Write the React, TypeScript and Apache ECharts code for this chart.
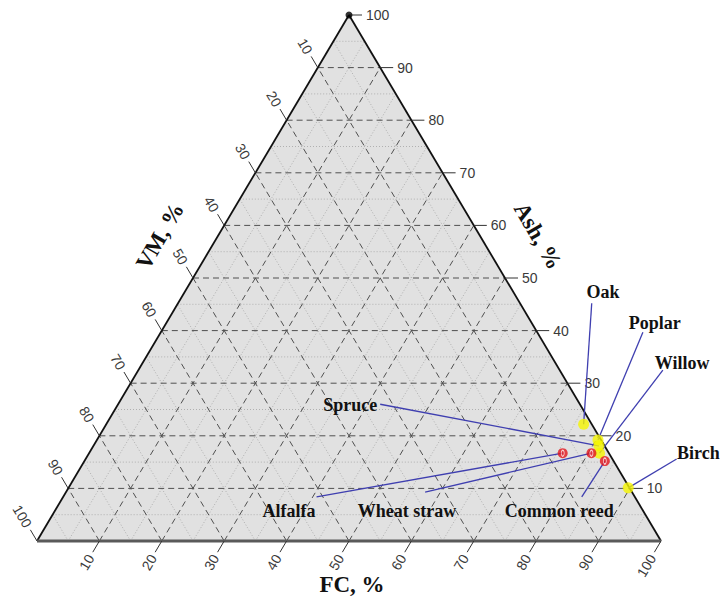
import React, { useEffect, useRef } from 'react';
import * as echarts from 'echarts';

// ---- data (ternary, %) ----
const species = ['Oak', 'Poplar', 'Willow', 'Birch', 'Spruce', 'Alfalfa', 'Wheat straw', 'Common reed'];
const vmValues = [1.3, 0.5, 1.5, 0.2, 0.9, 7.4, 2.8, 1.4];
const fcValues = [76.5, 80.3, 81.8, 89.7, 81.0, 75.9, 80.5, 83.4];
const ashValues = [22.2, 19.2, 16.7, 10.1, 18.1, 16.7, 16.7, 15.2];
const speciesGroup = ['woody', 'woody', 'woody', 'woody', 'woody', 'herbaceous', 'herbaceous', 'herbaceous'];

const tickValues = [10, 20, 30, 40, 50, 60, 70, 80, 90, 100];
const majorLevels = [10, 20, 30, 40, 50, 60, 70, 80, 90];
const minorLevels = [5, 15, 25, 35, 45, 55, 65, 75, 85, 95];

// ---- layout of annotation labels (plot coordinates: X = FC + Ash/2, Y = Ash) ----
const labelCenterX = [90.7, 99.0, 103.4, 106.0, 50.2, 40.4, 59.3, 83.7];
const labelCenterY = [47.3, 41.4, 33.8, 16.7, 25.9, 5.7, 5.7, 5.7];
const leaderStartX = [88.9, 97.1, 100.3, 102.5, 55.0, 44.8, 62.2, 87.3];
const leaderStartY = [45.2, 39.7, 32.5, 15.6, 26.0, 8.4, 9.3, 8.4];

const toXY = (vm: number, fc: number, ash: number): [number, number] => {
  const s = vm + fc + ash;
  const f = (fc / s) * 100;
  const a = (ash / s) * 100;
  return [f + a / 2, a];
};

const gridSegments = (levels: number[]) => {
  const segs: number[][] = [];
  levels.forEach((k) => {
    const a1 = toXY(100 - k, 0, k), a2 = toXY(0, 100 - k, k);
    const f1 = toXY(100 - k, k, 0), f2 = toXY(0, k, 100 - k);
    const v1 = toXY(k, 100 - k, 0), v2 = toXY(k, 0, 100 - k);
    segs.push([...a1, ...a2], [...f1, ...f2], [...v1, ...v2]);
  });
  return segs;
};

const segRender = (stroke: string, lineWidth: number, lineDash?: number[]) =>
  (params: any, api: any) => {
    const p1 = api.coord([api.value(0), api.value(1)]);
    const p2 = api.coord([api.value(2), api.value(3)]);
    return {
      type: 'line',
      shape: { x1: p1[0], y1: p1[1], x2: p2[0], y2: p2[1] },
      style: { stroke, lineWidth, lineDash, fill: null },
    };
  };

export default function App() {
  const ref = useRef<HTMLDivElement>(null);

  useEffect(() => {
    if (!ref.current) return;
    document.body.style.margin = '0';
    const chart = echarts.init(ref.current, undefined, { renderer: 'svg' });

    const T = toXY(0, 0, 100), L = toXY(100, 0, 0), R = toXY(0, 100, 0);

    // tick data: [X, Y, axisId, value]   axisId 0 = VM (left), 1 = FC (bottom), 2 = Ash (right)
    const tickData: number[][] = [];
    tickValues.forEach((v) => {
      tickData.push([...toXY(v, 0, 100 - v), 0, v]);
      tickData.push([...toXY(100 - v, v, 0), 1, v]);
      tickData.push([...toXY(0, 100 - v, v), 2, v]);
    });

    const pointData = species.map((name, i) => {
      const [x, y] = toXY(vmValues[i], fcValues[i], ashValues[i]);
      return { name, value: [x, y], group: speciesGroup[i] };
    });
    const woody = pointData.filter((p) => p.group === 'woody');
    const herb = pointData.filter((p) => p.group === 'herbaceous');

    const leaderData = species.map((_, i) => {
      const [x, y] = toXY(vmValues[i], fcValues[i], ashValues[i]);
      return [leaderStartX[i], leaderStartY[i], x, y];
    });
    const labelData = species.map((_, i) => [labelCenterX[i], labelCenterY[i], i]);

    const serif = '"Liberation Serif", "Times New Roman", serif';
    const sans = '"Liberation Sans", Arial, sans-serif';

    chart.setOption({
      animation: false,
      backgroundColor: '#ffffff',
      grid: { left: 37, top: 15, width: 624, height: 526, containLabel: false },
      xAxis: { type: 'value', min: 0, max: 100, show: false },
      yAxis: { type: 'value', min: 0, max: 100, show: false },
      tooltip: { show: false },
      series: [
        {
          type: 'custom', silent: true, z: 1, clip: false,
          data: [[0, 0]],
          renderItem: (params: any, api: any) => {
            const pts = [api.coord(T), api.coord(L), api.coord(R)];
            return { type: 'polygon', shape: { points: pts }, style: { fill: '#e1e1e1', stroke: null } };
          },
        },
        {
          type: 'custom', silent: true, z: 2, clip: false,
          data: gridSegments(minorLevels),
          renderItem: segRender('#b0b0b0', 1, [1, 2]),
        },
        {
          type: 'custom', silent: true, z: 3, clip: false,
          data: gridSegments(majorLevels),
          renderItem: segRender('#505050', 1, [6, 4]),
        },
        {
          type: 'custom', silent: true, z: 4, clip: false,
          data: [[...L, ...T], [...T, ...R]],
          renderItem: segRender('#111111', 1.8),
        },
        {
          type: 'custom', silent: true, z: 4, clip: false,
          data: [[...L, ...R]],
          renderItem: segRender('#5a5a5a', 3),
        },
        {
          type: 'custom', silent: true, z: 5, clip: false,
          data: tickData,
          renderItem: (params: any, api: any) => {
            const p = api.coord([api.value(0), api.value(1)]);
            const axis = api.value(2);
            const val = api.value(3);
            const pT = api.coord(T), pL = api.coord(L), pR = api.coord(R);
            let d: number[];
            if (axis === 2) d = [1, 0];
            else if (axis === 0) d = [pT[0] - pR[0], pT[1] - pR[1]];
            else d = [pL[0] - pT[0], pL[1] - pT[1]];
            const len = Math.hypot(d[0], d[1]);
            d = [d[0] / len, d[1] / len];
            const tickLen = 13, gap = 4;
            const e = [p[0] + d[0] * tickLen, p[1] + d[1] * tickLen];
            const a = [p[0] + d[0] * (tickLen + gap), p[1] + d[1] * (tickLen + gap)];
            let rotation = 0;
            let align = 'left';
            if (axis !== 2) {
              rotation = Math.atan2(d[1], -d[0]);
              align = 'right';
            }
            return {
              type: 'group',
              children: [
                { type: 'line', shape: { x1: p[0], y1: p[1], x2: e[0], y2: e[1] }, style: { stroke: '#333', lineWidth: 1 } },
                {
                  type: 'text', x: a[0], y: a[1], rotation,
                  style: { text: String(val), align, verticalAlign: 'middle', fill: '#3a3a3a', font: '14px ' + sans },
                },
              ],
            };
          },
        },
        {
          type: 'scatter', silent: true, z: 5, clip: false,
          data: [T], symbol: 'circle', symbolSize: 7, itemStyle: { color: '#000' },
        },
        {
          type: 'custom', silent: true, z: 6, clip: false,
          data: leaderData,
          renderItem: segRender('#3f3fb0', 1.3),
        },
        {
          type: 'custom', silent: true, z: 7, clip: false,
          data: labelData,
          renderItem: (params: any, api: any) => {
            const p = api.coord([api.value(0), api.value(1)]);
            return {
              type: 'text', x: p[0], y: p[1],
              style: { text: species[api.value(2)], align: 'center', verticalAlign: 'middle', fill: '#111', font: 'bold 18px ' + serif },
            };
          },
        },
        {
          type: 'scatter', name: 'Woody', silent: true, z: 8, clip: false,
          data: woody, symbol: 'circle', symbolSize: 11, itemStyle: { color: '#f5f500' },
        },
        {
          type: 'scatter', name: 'Herbaceous', silent: true, z: 8, clip: false,
          data: herb, symbol: 'circle', symbolSize: 10, itemStyle: { color: '#e3141c' },
        },
        {
          type: 'scatter', silent: true, z: 9, clip: false,
          data: herb, symbol: 'circle', symbolSize: [3, 6],
          itemStyle: { color: 'rgba(0,0,0,0)', borderColor: '#ffffff', borderWidth: 1 },
        },
      ],
      graphic: [
        { type: 'text', x: 352, y: 584, style: { text: 'FC, %', align: 'center', verticalAlign: 'middle', fill: '#111', font: 'bold 23px ' + serif } },
        { type: 'text', x: 160, y: 236, rotation: Math.PI / 3, style: { text: 'VM, %', align: 'center', verticalAlign: 'middle', fill: '#111', font: 'bold 23px ' + serif } },
        { type: 'text', x: 538, y: 236, rotation: -Math.PI / 3, style: { text: 'Ash, %', align: 'center', verticalAlign: 'middle', fill: '#111', font: 'bold 23px ' + serif } },
      ],
    });

    return () => chart.dispose();
  }, []);

  return <div ref={ref} style={{ position: 'fixed', left: 0, top: 0, width: 725, height: 601 }} />;
}
